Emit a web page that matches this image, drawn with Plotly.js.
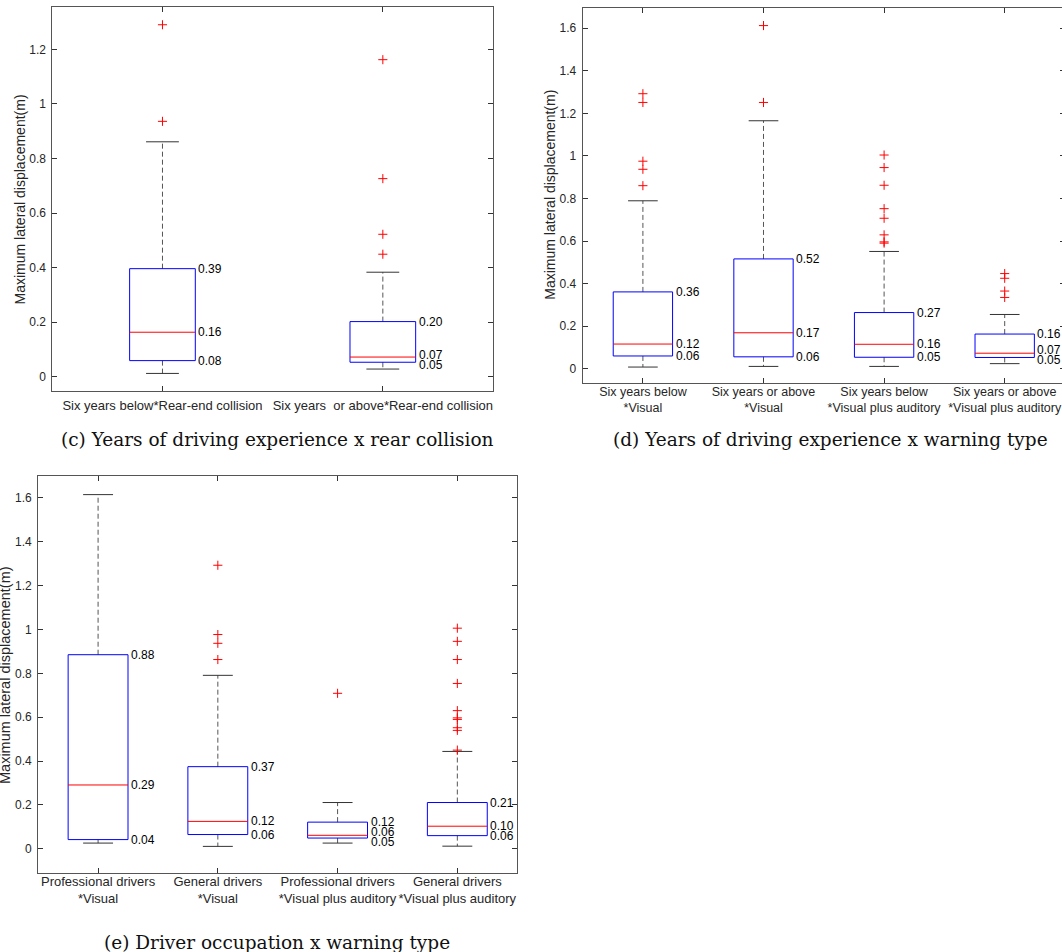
<!DOCTYPE html>
<html><head><meta charset="utf-8">
<script src="https://cdn.plot.ly/plotly-3.0.1.min.js"></script>
<style>html,body{margin:0;padding:0;overflow:hidden;background:#fff}#chart{width:1070px;height:952px}</style>
</head><body><div id="chart"></div>
<script>
// ---------- Data ----------
// (c) Years of driving experience x rear collision
const catsC = ['Six years below*Rear-end collision', 'Six years\u00a0 or above*Rear-end collision'];
const q1C  = [0.059, 0.053];
const medC = [0.163, 0.072];
const q3C  = [0.396, 0.202];
const loC  = [0.012, 0.028];
const hiC  = [0.861, 0.383];
const outC = [[1.290, 0.936], [1.162, 0.726, 0.522, 0.449]];
const labC = [['0.39', '0.16', '0.08'], ['0.20', '0.07', '0.05']];

// (d) Years of driving experience x warning type
const catsD = ['Six years below<br>*Visual', 'Six years or above<br>*Visual',
               'Six years below<br>*Visual plus auditory', 'Six years or above<br>*Visual plus auditory'];
const q1D  = [0.060, 0.056, 0.054, 0.053];
const medD = [0.116, 0.169, 0.115, 0.073];
const q3D  = [0.361, 0.516, 0.264, 0.163];
const loD  = [0.008, 0.011, 0.011, 0.024];
const hiD  = [0.789, 1.165, 0.551, 0.255];
const outD = [[1.292, 1.251, 0.975, 0.937, 0.860], [1.612, 1.251],
              [1.004, 0.945, 0.862, 0.752, 0.707, 0.629, 0.596, 0.590],
              [0.447, 0.425, 0.365, 0.335]];
const labD = [['0.36', '0.12', '0.06'], ['0.52', '0.17', '0.06'], ['0.27', '0.16', '0.05'], ['0.16', '0.07', '0.05']];

// (e) Driver occupation x warning type
const catsE = ['Professional drivers<br>*Visual', 'General drivers<br>*Visual',
               'Professional drivers<br>*Visual plus auditory', 'General drivers<br>*Visual plus auditory'];
const q1E  = [0.042, 0.065, 0.049, 0.060];
const medE = [0.291, 0.125, 0.0615, 0.103];
const q3E  = [0.885, 0.3745, 0.1216, 0.211];
const loE  = [0.026, 0.011, 0.026, 0.012];
const hiE  = [1.615, 0.791, 0.211, 0.444];
const outE = [[], [1.293, 0.977, 0.937, 0.863], [0.709],
              [1.006, 0.946, 0.863, 0.754, 0.630, 0.597, 0.590, 0.552, 0.540, 0.450]];
const labE = [['0.88', '0.29', '0.04'], ['0.37', '0.12', '0.06'], ['0.12', '0.06', '0.05'], ['0.21', '0.10', '0.06']];

const yTitle = 'Maximum lateral displacement(m)';
const captions = ['(c) Years of driving experience x rear collision',
                  '(d) Years of driving experience x warning type',
                  '(e) Driver occupation x warning type'];

// ---------- Layout / style ----------
const W = 1070, H = 952;
const SANS = 'Liberation Sans, Arial, Helvetica, sans-serif';
const SERIF = 'DejaVu Serif, Liberation Serif, serif';
const panels = [
  {cats: catsC, q1: q1C, med: medC, q3: q3C, lo: loC, hi: hiC, out: outC, lab: labC,
   px: [52.3, 493], py: [7.3, 391], yr: [-0.0524, 1.354], half: 0.149,
   title: {x: 19, y: 199.5, size: 14}, cap: {x: 277, y: 439}, tickSize: 13, stand: 2},
  {cats: catsD, q1: q1D, med: medD, q3: q3D, lo: loD, hi: hiD, out: outD, lab: labD,
   px: [582.6, 1065], py: [7.5, 382.8], yr: [-0.066, 1.697], half: 0.246,
   title: {x: 549.7, y: 195, size: 14}, cap: {x: 830, y: 439}, tickSize: 12.5, stand: -3},
  {cats: catsE, q1: q1E, med: medE, q3: q3E, lo: loE, hi: hiE, out: outE, lab: labE,
   px: [38.2, 517.2], py: [476.2, 872.7], yr: [-0.109, 1.699], half: 0.25,
   title: {x: 5, y: 675, size: 14.5}, cap: {x: 276.6, y: 942}, tickSize: 13, stand: -3}
];

const traces = [];
const annotations = [];
const layout = {
  width: W, height: H, margin: {l: 0, r: 0, t: 0, b: 0},
  paper_bgcolor: '#fff', plot_bgcolor: '#fff', showlegend: false,
  annotations: annotations
};

panels.forEach((p, k) => {
  const sfx = k === 0 ? '' : String(k + 1);
  const xa = 'x' + sfx, ya = 'y' + sfx;
  const n = p.cats.length;
  const centers = p.cats.map((_, i) => i + 1);
  const h = p.half;
  const wx = [], wy = [], cx = [], cy = [], bx = [], by = [], mx = [], my = [], ox = [], oy = [];
  centers.forEach((c, i) => {
    wx.push(c, c, null, c, c, null); wy.push(p.q3[i], p.hi[i], null, p.q1[i], p.lo[i], null);
    cx.push(c - h / 2, c + h / 2, null, c - h / 2, c + h / 2, null);
    cy.push(p.hi[i], p.hi[i], null, p.lo[i], p.lo[i], null);
    bx.push(c - h, c + h, c + h, c - h, c - h, null); by.push(p.q1[i], p.q1[i], p.q3[i], p.q3[i], p.q1[i], null);
    mx.push(c - h, c + h, null); my.push(p.med[i], p.med[i], null);
    p.out[i].forEach(v => { ox.push(c); oy.push(v); });
  });
  const common = {type: 'scatter', xaxis: xa, yaxis: ya, hoverinfo: 'skip', cliponaxis: false};
  traces.push(Object.assign({}, common, {x: wx, y: wy, mode: 'lines', line: {color: '#555', width: 1, dash: '5px,3px'}}));
  traces.push(Object.assign({}, common, {x: cx, y: cy, mode: 'lines', line: {color: '#333', width: 1}}));
  traces.push(Object.assign({}, common, {x: bx, y: by, mode: 'lines', line: {color: '#0000ff', width: 1}}));
  traces.push(Object.assign({}, common, {x: mx, y: my, mode: 'lines', line: {color: '#ff0000', width: 1}}));
  traces.push(Object.assign({}, common, {x: ox, y: oy, mode: 'markers',
    marker: {symbol: 'cross-thin-open', size: 6.5, color: '#ff0000', line: {color: '#ff0000', width: 1}}}));

  const axBase = {
    showline: true, linecolor: '#555', linewidth: 1, mirror: 'ticks',
    ticks: 'inside', ticklen: 5, tickwidth: 1, tickcolor: '#333',
    showgrid: false, zeroline: false, fixedrange: true
  };
  layout['xaxis' + sfx] = Object.assign({}, axBase, {
    domain: [p.px[0] / W, p.px[1] / W], anchor: ya, range: [0.5, n + 0.5],
    tickmode: 'array', tickvals: centers, ticktext: p.cats, tickangle: 0,
    tickfont: {family: SANS, size: p.tickSize, color: '#262626'}, ticklabelstandoff: p.stand
  });
  layout['yaxis' + sfx] = Object.assign({}, axBase, {
    domain: [1 - p.py[1] / H, 1 - p.py[0] / H], anchor: xa, range: p.yr,
    tick0: 0, dtick: 0.2,
    tickfont: {family: SANS, size: 12, color: '#262626'}, ticklabelstandoff: 3
  });

  // value labels next to the boxes, nudged apart when they would overlap
  const pxPerUnit = (p.py[1] - p.py[0]) / (p.yr[1] - p.yr[0]);
  const minGap = 10;
  centers.forEach((c, i) => {
    const vals = [p.q3[i], p.med[i], p.q1[i]];
    const shift = [0, 0, 0];
    let g = (vals[1] - vals[2]) * pxPerUnit;
    if (g < minGap) { const d = (minGap - g) / 2; shift[1] += d; shift[2] -= d; }
    g = (vals[0] - vals[1]) * pxPerUnit + shift[0] - shift[1];
    if (g < minGap) { const d = (minGap - g); shift[0] += d; }
    vals.forEach((v, j) => {
      annotations.push({
        xref: xa, yref: ya, x: c + h, y: v, text: p.lab[i][j], showarrow: false,
        xanchor: 'left', yanchor: 'middle', xshift: 1, yshift: shift[j],
        font: {family: SANS, size: 12, color: '#000'}
      });
    });
  });

  annotations.push({
    xref: 'paper', yref: 'paper', x: p.title.x / W, y: 1 - p.title.y / H, text: yTitle,
    textangle: -90, showarrow: false, xanchor: 'center', yanchor: 'middle',
    font: {family: SANS, size: p.title.size, color: '#262626'}
  });
  annotations.push({
    xref: 'paper', yref: 'paper', x: p.cap.x / W, y: 1 - p.cap.y / H, text: captions[k],
    showarrow: false, xanchor: 'center', yanchor: 'middle',
    font: {family: SERIF, size: 18.5, color: '#111'}
  });
});

Plotly.newPlot('chart', traces, layout, {staticPlot: true, displayModeBar: false});
</script></body></html>
